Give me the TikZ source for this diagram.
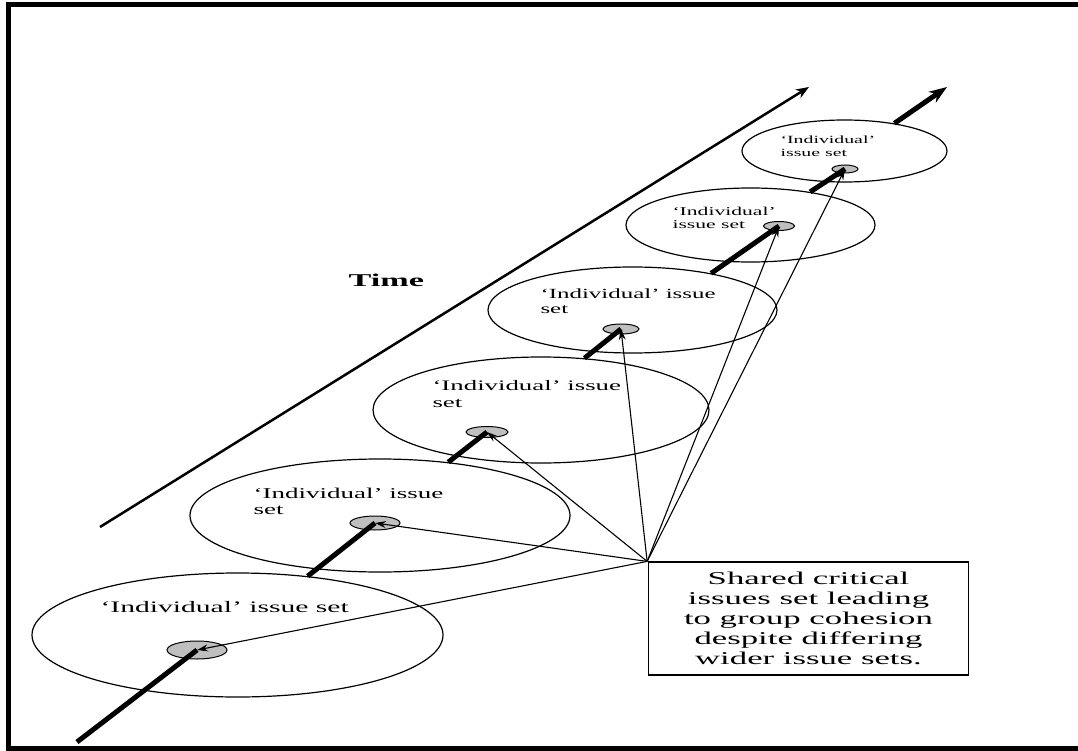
\documentclass[tikz,border=0pt]{standalone}
\usepackage{fontspec}
\setmainfont{Liberation Serif}
\usepackage{tikz}
\usetikzlibrary{arrows.meta, shapes.geometric}

\begin{document}
\begin{tikzpicture}[x=1pt, y=-1pt, >={Stealth[length=11pt, width=7pt]},
                    semithick]
\tikzstyle{disc}=[shape=ellipse, draw=black, line width=1.2pt, inner sep=0pt]
\tikzstyle{core}=[shape=ellipse, draw=black, fill=black!25,
                    line width=1pt, inner sep=0pt]
\tikzstyle{lbl}=[inner sep=0pt, anchor=base west, align=left]
\tikzstyle{timeaxis}=[line width=2.5pt, -{Stealth[length=13pt, width=10pt]}]
\tikzstyle{issueaxis}=[line width=5pt]
\tikzstyle{link}=[line width=1.1pt, ->]
  \useasboundingbox (0,0) rectangle (1078,751);
  % frame
  \draw[line width=5pt] (1078,5) -- (8,5) -- (8,748) -- (1078,748);
  % issue set discs
  \node[disc, minimum width=411pt, minimum height=124pt] (E1) at (237.5,635) {};
  \node[disc, minimum width=380pt, minimum height=113pt] (E2) at (380,515.5) {};
  \node[disc, minimum width=336pt, minimum height=106pt] (E3) at (541,410) {};
  \node[disc, minimum width=289pt, minimum height=86pt]  (E4) at (632.5,310) {};
  \node[disc, minimum width=249pt, minimum height=74pt]  (E5) at (750.5,225) {};
  \node[disc, minimum width=205pt, minimum height=62pt]  (E6) at (844.5,151) {};
  % labels (base = last line)
  \node[lbl, font=\fontsize{16}{18}\selectfont, xscale=1.85] (L1) at (100,612) {‘Individual’ issue set};
  \node[lbl, font=\fontsize{15}{16}\selectfont, xscale=1.8] (L2) at (253,514) {‘Individual’ issue\\set};
  \node[lbl, font=\fontsize{14.5}{17}\selectfont, xscale=1.85] (L3) at (432,407) {‘Individual’ issue\\set};
  \node[lbl, font=\fontsize{14}{15}\selectfont, xscale=1.78] (L4) at (540,313) {‘Individual’ issue\\set};
  \node[lbl, font=\fontsize{12}{13}\selectfont, xscale=1.8] (L5) at (672,229) {‘Individual’\\issue set};
  \node[lbl, font=\fontsize{11}{13}\selectfont, xscale=1.8] (L6) at (780,157) {‘Individual’\\issue set};
  % shared critical cores
  \node[core, minimum width=60pt, minimum height=18pt] (C1) at (197,650) {};
  \node[core, minimum width=50pt, minimum height=14pt] (C2) at (375,523) {};
  \node[core, minimum width=42pt, minimum height=11pt] (C3) at (487,432) {};
  \node[core, minimum width=36pt, minimum height=10pt] (C4) at (621,329) {};
  \node[core, minimum width=31pt, minimum height=9pt]  (C5) at (779,226) {};
  \node[core, minimum width=26pt, minimum height=8pt]  (C6) at (845,169) {};
  % time
  \node[lbl, font=\bfseries\fontsize{18}{20}\selectfont, xscale=1.9] (T) at (348,287) {Time};
  \coordinate (T0) at (100,527);
  \coordinate (T1) at (809,87);
  \draw[timeaxis] (T0) -- (T1);
  \coordinate (A0) at (77,742);
  \coordinate (A1) at (947,87);
  \draw[issueaxis] (A0) -- (C1.center);
  \draw[issueaxis] (E1.40) -- (C2.center);
  \draw[issueaxis] (E2.38) -- (C3.center);
  \draw[issueaxis] (E3.50) -- (C4.center);
  \draw[issueaxis] (E4.25) -- (C5.center);
  \draw[issueaxis] (E5.29) -- (C6.center);
  \draw[issueaxis, -{Stealth[length=18pt, width=13pt]}] (E6.29) -- (A1);
  % box
  \node[draw=black, line width=1.2pt, xscale=1.93, minimum width=166pt,
        minimum height=113pt, inner sep=0pt, align=center,
        font=\fontsize{18}{20}\selectfont] (B) at (808.5,618.5)
        {Shared critical\\issues set leading\\to group cohesion\\despite differing\\wider issue sets.};
  \path[link] (B.north west) edge (C1.center) edge (C2.center) edge (C3.center)
                             edge (C4.center) edge (C5.center) edge (C6.center);
\end{tikzpicture}
\end{document}
